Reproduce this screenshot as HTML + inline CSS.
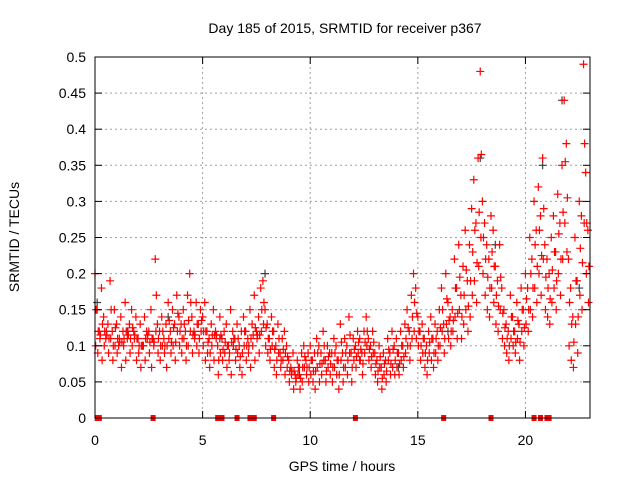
<!DOCTYPE html>
<html><head><meta charset="utf-8"><style>
body{margin:0;background:#fff;}
svg text{font-family:"Liberation Sans",sans-serif;font-size:14px;fill:#000;}
</style></head><body>
<svg id="c" width="640" height="480">
<text x="345" y="33" text-anchor="middle">Day 185 of 2015, SRMTID for receiver p367</text>
<text x="342" y="471" text-anchor="middle">GPS time / hours</text>
<text transform="translate(19,237) rotate(-90)" text-anchor="middle">SRMTID / TECUs</text>
<g id="grid"></g>
<g id="pts"></g>
<g id="axes"></g>
</svg>
<script>
const xTicks=[0,5,10,15,20];
const yTicks=[0,0.05,0.1,0.15,0.2,0.25,0.3,0.35,0.4,0.45,0.5];
const yTickLabels=["0","0.05","0.1","0.15","0.2","0.25","0.3","0.35","0.4","0.45","0.5"];
const tStart=0, tStep=0.1;
const upperVals=[20,15,12,18,14,11,13,19,12,15,13,10,14,12,16,11,13,15,12,14,11,13,10,14,12,12,15,11,22,13,12,14,11,13,16,12,15,13,17,14,13,15,12,17,20,14,12,16,13,15,14,16,12,11,13,15,12,10,14,11,12,13,10,15,12,11,13,10,12,14,12,11,15,13,17,12,14,18,19,15,13,11,14,12,10,13,9,11,12,10,8,7,9,6,8,7,9,10,8,9,10,8,9,11,10,9,12,8,10,9,9,11,10,8,13,9,11,10,14,9,11,10,12,11,9,12,14,11,10,12,9,8,10,7,9,8,11,9,12,10,11,9,12,10,13,15,12,17,20,18,14,12,13,11,10,12,14,11,13,12,15,18,13,20,16,14,15,22,18,24,17,21,26,19,24,29,33,27,36,48,30,27,24,22,28,26,21,19,24,18,15,13,12,17,14,12,16,13,18,15,20,18,25,22,30,26,32,28,36,24,22,20,25,28,23,31,27,35,44,38,22,18,14,25,19,30,28,49,34,26];
const lowerVals=[10,9,11,8,10,12,9,11,8,10,9,11,7,10,8,12,9,10,11,8,9,7,10,8,11,9,7,10,12,9,8,10,9,7,11,9,10,8,12,10,9,11,8,10,12,9,11,10,9,12,10,8,9,7,10,8,11,6,9,8,9,7,8,6,10,8,9,7,6,10,8,9,7,10,8,11,9,12,13,10,9,8,10,7,6,9,7,8,6,7,5,6,4,5,6,4,5,7,6,5,6,5,4,7,5,6,8,5,7,6,5,7,6,4,8,5,7,6,9,5,8,7,9,8,6,9,10,8,7,9,6,5,7,4,6,5,8,6,7,6,7,6,8,7,9,10,8,11,12,11,10,8,9,7,6,9,8,7,9,8,10,12,9,13,11,10,12,14,11,15,11,13,15,12,14,17,19,16,21,25,20,17,15,14,18,16,13,12,15,11,10,9,8,11,10,9,11,8,12,10,13,12,15,14,18,16,20,17,22,15,14,13,16,18,15,20,17,22,27,23,10,8,7,13,9,17,15,27,20,16];
const greyT=[0.1,1.5,3.4,5.8,7.9,9.5,12.3,14.1,16.4,17.9,18.6,19.7,20.8,21.7,22.5];
const greyV=[0.16,0.12,0.14,0.11,0.2,0.06,0.08,0.07,0.12,0.36,0.24,0.13,0.35,0.44,0.18];
const zeroT=[0.1,0.2,2.7,5.7,5.9,6.6,7.2,7.4,8.3,12.1,16.2,18.4,20.4,20.7,21.0,21.1];
const L=95,R=590,T=57,B=418,XMAX=23,YMAX=0.5;
const X=v=>L+(v/XMAX)*(R-L), Y=v=>B-(v/YMAX)*(B-T);
const NS="http://www.w3.org/2000/svg";
function mk(tag,parent,attrs){const e=document.createElementNS(NS,tag);for(const k in attrs)e.setAttribute(k,attrs[k]);parent.appendChild(e);return e;}
const grid=document.getElementById('grid'),axes=document.getElementById('axes'),pts=document.getElementById('pts');
yTicks.forEach((v,i)=>{const y=Y(v);
 if(i>0&&i<yTicks.length-1){const g=mk('line',grid,{x1:L,x2:R,y1:y,y2:y,stroke:'#a0a0a0','stroke-dasharray':'2,3'});
 
 }
 mk('line',axes,{x1:L,x2:L+7,y1:y,y2:y,stroke:'#000'});mk('line',axes,{x1:R-7,x2:R,y1:y,y2:y,stroke:'#000'});
 const t=mk('text',axes,{x:L-9,y:y+5,'text-anchor':'end'});t.textContent=yTickLabels[i];
 
 });
xTicks.forEach(v=>{const x=X(v);
 if(v>0){const g=mk('line',grid,{x1:x,x2:x,y1:T,y2:B,stroke:'#a0a0a0','stroke-dasharray':'2,3'});
 
 }
 mk('line',axes,{x1:x,x2:x,y1:B,y2:B-7,stroke:'#000'});mk('line',axes,{x1:x,x2:x,y1:T,y2:T+7,stroke:'#000'});
 const t=mk('text',axes,{x:x,y:B+27,'text-anchor':'middle'});t.textContent=String(v);
 
 });
const fr=mk('rect',axes,{x:L,y:T,width:R-L,height:B-T,fill:'none',stroke:'#000'});


function plus(t,v,col){const x=X(t),y=Y(v);const p=mk('path',pts,{d:`M${x-4},${y}h8M${x},${y-4}v8`,stroke:col,'stroke-width':1.2});
 
 }
greyT.forEach((t,i)=>plus(t,greyV[i],'#404040'));
upperVals.forEach((v,i)=>{const t=tStart+i*tStep;plus(t,v/100,'#ff0000');plus(t+0.05,(v+lowerVals[i])/200,'#ff0000');});
lowerVals.forEach((v,i)=>plus(tStart+i*tStep+0.03,v/100,'#ff0000'));
zeroT.forEach(t=>{const r=mk('rect',pts,{x:X(t)-2.5,y:B-3,width:5,height:6,fill:'#ff0000'});
 
 });
</script>
</body></html>
